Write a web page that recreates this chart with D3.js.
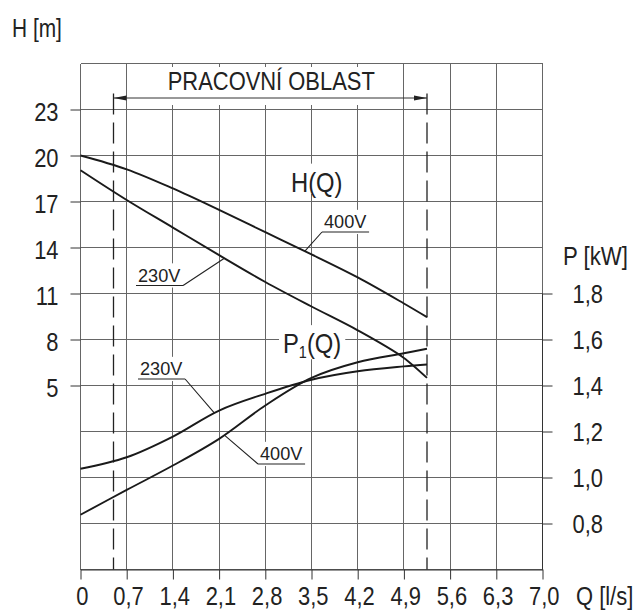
<!DOCTYPE html>
<html>
<head>
<meta charset="utf-8">
<script src="https://cdn.jsdelivr.net/npm/d3@7"></script>
<style>
  body { margin: 0; background: #fff; }
  svg text { font-family: "Liberation Sans", Arial, sans-serif; fill: #222; }
</style>
</head>
<body>
<div id="chart"></div>
<script>
// flow values (l/s) at which the curves were read
var flow = [0, 0.7, 1.4, 2.1, 2.8, 3.5, 4.2, 4.9, 5.25];
// H(Q) in m
var head400 = [20.0, 19.1, 17.85, 16.45, 15.0, 13.55, 12.05, 10.35, 9.46];
var head230 = [19.04, 17.1, 15.3, 13.5, 11.75, 10.15, 8.6, 6.8, 5.5];
// P1(Q) in kW
var power230 = [1.038, 1.088, 1.178, 1.291, 1.364, 1.425, 1.462, 1.483, 1.491];
var power400 = [0.838, 0.946, 1.052, 1.168, 1.313, 1.433, 1.501, 1.54, 1.56];

var flowTicks = [0, 0.7, 1.4, 2.1, 2.8, 3.5, 4.2, 4.9, 5.6, 6.3, 7.0];
var headTicks = [5, 8, 11, 14, 17, 20, 23];
var powerTicks = [0.8, 1.0, 1.2, 1.4, 1.6, 1.8];
var workRange = [0.5, 5.25];   // PRACOVNÍ OBLAST

var W = 637, H = 610;
var pLeft = 80, pRight = 542, pTop = 63, pBottom = 569;
var SX = 0.86;   // condensed look of the original lettering

var x = d3.scaleLinear().domain([0, 7]).range([pLeft + 0.5, pRight + 0.5]);
var yH = d3.scaleLinear().domain([-7, 26]).range([pBottom + 0.5, pTop + 0.5]);
var yP = d3.scaleLinear().domain([0.6, 2.8]).range([pBottom + 0.5, pTop + 0.5]);

var svg = d3.select("#chart").append("svg")
    .attr("width", W)
    .attr("height", H);

function label(parent, px, py, s, size, anchor, sx) {
  var g = parent.append("g").attr("transform", "translate(" + px + "," + py + ")");
  g.append("text")
    .attr("transform", "scale(" + (sx || SX) + ",1)")
    .attr("text-anchor", anchor || "start")
    .style("font-size", size + "px")
    .text(s);
  return g;
}

function knockout(g, pad) {
  var b = g.node().getBBox();
  var t = g.attr("transform").match(/translate\(([-\d.]+),([-\d.]+)\)/);
  var ox = +t[1], oy = +t[2];
  svg.select(".knock").append("rect")
    .attr("x", ox + b.x - pad[3])
    .attr("y", oy + b.y - pad[0])
    .attr("width", b.width + pad[1] + pad[3])
    .attr("height", b.height + pad[0] + pad[2])
    .attr("fill", "#fff");
  return b;
}

// grid
var grid = svg.append("g").attr("class", "grid")
    .attr("stroke", "#666").attr("stroke-width", 1)
    .attr("shape-rendering", "crispEdges");
grid.selectAll("line.v").data(flowTicks).enter().append("line")
    .attr("x1", function(d) { return x(d); })
    .attr("x2", function(d) { return x(d); })
    .attr("y1", yH(26)).attr("y2", yH(-7));
grid.selectAll("line.h").data(d3.range(-7, 27, 3)).enter().append("line")
    .attr("x1", x(0)).attr("x2", x(7))
    .attr("y1", function(d) { return yH(d); })
    .attr("y2", function(d) { return yH(d); });

svg.append("g").attr("class", "knock");
var labels = svg.append("g");

// working range annotation
var arrowH = 23.75, dashTop = 24.05;
var mid = (x(workRange[0]) + x(workRange[1])) / 2;
var work = label(labels, mid + 1, 90, "PRACOVNÍ OBLAST", 25.5, "middle");
var wb = work.node().getBBox();
svg.select(".knock").append("rect")
    .attr("x", mid + wb.x - 12)
    .attr("y", 67)
    .attr("width", wb.width + 30)
    .attr("height", yH(arrowH) - 67 + 7)
    .attr("fill", "#fff");

svg.selectAll("line.work").data(workRange).enter().append("line")
    .attr("x1", function(d) { return x(d); })
    .attr("x2", function(d) { return x(d); })
    .attr("y1", yH(dashTop)).attr("y2", yH(-7))
    .attr("stroke", "#222").attr("stroke-width", 1.3)
    .attr("stroke-dasharray", "21,8");

var ay = yH(arrowH);
svg.append("line")
    .attr("x1", x(workRange[0])).attr("x2", x(workRange[1]))
    .attr("y1", ay).attr("y2", ay)
    .attr("stroke", "#333").attr("stroke-width", 1);
svg.append("path")
    .attr("d", "M" + x(workRange[0]) + "," + ay + "l13,-2.5v5z")
    .attr("fill", "#222");
svg.append("path")
    .attr("d", "M" + x(workRange[1]) + "," + ay + "l-13,-2.5v5z")
    .attr("fill", "#222");

// axes
var fmt = function(d) { return d === 0 ? "0" : d.toFixed(1).replace(".", ","); };

var ax = svg.append("g")
    .attr("transform", "translate(0," + (pBottom + 0.5) + ")")
    .call(d3.axisBottom(x).tickValues(flowTicks).tickFormat(fmt).tickSize(10).tickSizeOuter(0));
ax.selectAll("text").attr("y", 35.5).attr("dy", null).attr("x", 1.5)
    .attr("transform", "scale(" + SX + ",1)");

var al = svg.append("g")
    .attr("transform", "translate(" + (pLeft + 0.5) + ",0)")
    .call(d3.axisLeft(yH).tickValues(headTicks).tickSize(10).tickSizeOuter(0));
al.selectAll("text").attr("x", -22 / SX).attr("y", 10.5).attr("dy", null)
    .attr("transform", "scale(" + SX + ",1)");
al.select(".domain").remove();

var ar = svg.append("g")
    .attr("transform", "translate(" + (pRight + 0.5) + ",0)")
    .call(d3.axisRight(yP).tickValues(powerTicks).tickFormat(fmt).tickSize(10).tickSizeOuter(0));
ar.selectAll("text").attr("x", 30 / SX).attr("y", 8.5).attr("dy", null)
    .attr("transform", "scale(" + SX + ",1)");
ar.select(".domain").attr("d", "M0," + yP(1.8) + "V" + yP(0.6));

svg.selectAll(".tick line").attr("stroke", "#333");
svg.selectAll(".domain").attr("stroke", "#333");
svg.selectAll(".tick text").style("font-size", "25.5px").attr("fill", "#222")
    .style("font-family", "'Liberation Sans', Arial, sans-serif");

label(svg, 12, 36.7, "H [m]", 25.5, "start", 0.82);
label(svg, 563, 265, "P [kW]", 25.5, "start", 0.87);
label(svg, 576, 605, "Q [l/s]", 25.5, "start", 0.86);

// curves
var lineH = d3.line()
    .x(function(d) { return x(d[0]); })
    .y(function(d) { return yH(d[1]); })
    .curve(d3.curveCatmullRom.alpha(0.5));
var lineP = d3.line()
    .x(function(d) { return x(d[0]); })
    .y(function(d) { return yP(d[1]); })
    .curve(d3.curveCatmullRom.alpha(0.5));

var curves = [
  { vals: head400, line: lineH },
  { vals: head230, line: lineH },
  { vals: power230, line: lineP },
  { vals: power400, line: lineP }
];
svg.selectAll("path.curve").data(curves).enter().append("path")
    .attr("class", "curve")
    .attr("d", function(c) { return c.line(d3.zip(flow, c.vals)); })
    .attr("fill", "none")
    .attr("stroke", "#1a1a1a")
    .attr("stroke-width", 1.9);

// curve names
var hq = label(labels, 291, 191.5, "H(Q)", 28, "start", 0.85);
knockout(hq, [2, 4, -4, 4]);
var pq = labels.append("g").attr("transform", "translate(283,353)");
var pt = pq.append("text").attr("transform", "scale(0.85,1)").style("font-size", "28px");
pt.append("tspan").text("P");
pt.append("tspan").attr("dy", 5).style("font-size", "17px").text("1");
pt.append("tspan").attr("dy", -5).text("(Q)");
knockout(pq, [2, 4, -2, 4]);

// voltage labels with leader lines
var volt = [
  { text: "400V", vals: head400, y: yH, at: 3.4, tx: 324, ty: 228, side: "left" },
  { text: "230V", vals: head230, y: yH, at: 2.18, tx: 138, ty: 281.5, side: "right" },
  { text: "230V", vals: power230, y: yP, at: 2.03, tx: 140, ty: 375, side: "right" },
  { text: "400V", vals: power400, y: yP, at: 2.18, tx: 260, ty: 460, side: "left" }
];
volt.forEach(function(v) {
  var g = label(labels, v.tx, v.ty, v.text, 18.5, "start", 0.98);
  var b = knockout(g, [1, 3, 2, 3]);
  var uy = v.ty + 4;
  var x0 = v.tx + b.x - 2, x1 = v.tx + b.x + b.width + 2;
  var cy = v.y(d3.scaleLinear().domain(flow).range(v.vals)(v.at));
  labels.append("path")
      .attr("d", "M" + x0 + "," + uy + "H" + x1 +
        "M" + (v.side === "left" ? x0 : x1) + "," + uy + "L" + x(v.at) + "," + cy)
      .attr("fill", "none")
      .attr("stroke", "#222")
      .attr("stroke-width", 1.1);
});
</script>
</body>
</html>
